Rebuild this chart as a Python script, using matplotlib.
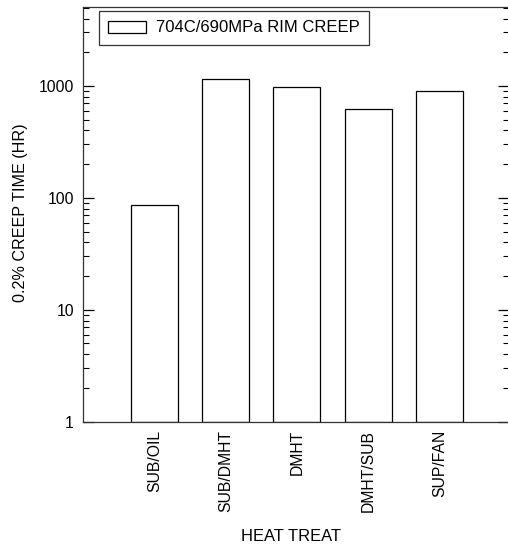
import numpy as np
import matplotlib.pyplot as plt
from matplotlib.ticker import LogLocator, FixedFormatter, FixedLocator

plt.rcParams['font.family'] = ['Liberation Sans', 'DejaVu Sans']

# heat treatments and 0.2% creep time (hr)
treatments = ['SUB/OIL', 'SUB/DMHT', 'DMHT', 'DMHT/SUB', 'SUP/FAN']
creep_time = [86, 1155, 985, 620, 900]
series_label = '704C/690MPa RIM CREEP'

x = np.arange(1, len(treatments) + 1)

fig = plt.figure(figsize=(5.08, 5.46), dpi=100)
ax = fig.add_axes([83 / 508, 1 - 421.7 / 546, 425.5 / 508, (421.7 - 6.7) / 546])

ax.bar(x, creep_time, width=0.66, bottom=1, color='white', edgecolor='black',
       linewidth=0.9, label=series_label)

ax.set_yscale('log')
ax.set_ylim(1, 5100)
ax.set_xlim(0, 5.97)

ax.yaxis.set_major_locator(FixedLocator([1, 10, 100, 1000]))
ax.yaxis.set_major_formatter(FixedFormatter(['1', '10', '100', '1000']))
ax.yaxis.set_minor_locator(LogLocator(base=10, subs=np.arange(2, 10)))
ax.yaxis.set_minor_formatter(FixedFormatter([]))
ax.tick_params(axis='y', which='major', direction='in', length=8, width=0.9,
               left=True, right=True, labelsize=11.3, pad=6.5)
ax.tick_params(axis='y', which='minor', direction='in', length=4, width=0.8,
               left=True, right=True)

ax.set_xticks(x)
ax.set_xticklabels(treatments, rotation=90, fontsize=11.3, va='top')
ax.tick_params(axis='x', length=0, pad=5.8)

for s in ax.spines.values():
    s.set_linewidth(0.9)
    s.set_color('#333333')
ax.spines['right'].set_visible(False)

ax.set_xlabel('HEAT TREAT', fontsize=11.9)
ax.xaxis.set_label_coords(0.49, -0.258)
ax.set_ylabel('0.2% CREEP TIME (HR)', fontsize=11.6)
ax.yaxis.set_label_coords(-0.129, 0.504)

leg = ax.legend(loc='upper left', bbox_to_anchor=(0.0376, 0.989), fontsize=12,
                frameon=True, fancybox=False, edgecolor='black',
                handlelength=2.28, handleheight=0.72, borderpad=0.55,
                handletextpad=0.6, borderaxespad=0)
leg.get_frame().set_linewidth(0.9)

plt.savefig('out.png', dpi=100)
